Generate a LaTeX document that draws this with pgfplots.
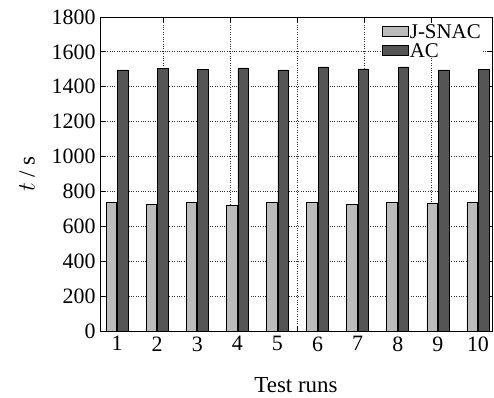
\documentclass[border=0pt]{standalone}
\usepackage{pgfplots}
\pgfplotsset{compat=1.18}
\usepackage{fontspec}
\setmainfont{Liberation Serif}
\definecolor{lightbar}{HTML}{BBBBBB}
\definecolor{darkbar}{HTML}{555555}
\pgfplotsset{boxlegend/.style={legend image code/.code={\draw[##1, draw=black, line width=0.6pt] (0bp,-5bp) rectangle (26bp,5bp);}}}
\begin{document}
\begin{tikzpicture}
\path[use as bounding box] (0,0) rectangle (494bp,398bp);
\begin{axis}[
  at={(100bp,67bp)}, anchor=south west,
  scale only axis, width=392bp, height=314bp,
  font=\fontsize{22}{24}\selectfont,
  ticklabel style={font=\fontsize{22}{24}\selectfont},
  /pgf/number format/assume math mode=true,
  /pgf/number format/1000 sep={},
  xmin=0.575, xmax=10.35, ymin=0, ymax=1800,
  ybar=1bp, bar width=10.5bp,
  every axis plot post/.append style={boxlegend},
  ytick={0,200,...,1800},
  xtick={2.15,3.82,5.49,7.16,8.83},
  xticklabels={},
  extra x ticks={1,2,3,4,5,6,7,8,9,10},
  extra x tick labels={1,2,3,4,5,6,7,8,9,10},
  extra x tick style={grid=none, major tick length=0pt},
  xmajorgrids, ymajorgrids,
  grid style={black!80, dotted, line width=0.8pt},
  tick align=inside, major tick length=5bp,
  tick style={black, line width=0.8pt},
  axis line style={line width=0.9pt},
  y tick label style={xshift=-1bp},
  x tick label style={yshift=-2bp},
  ylabel={$t$ / s},
  ylabel style={at={(axis description cs:-0.186,0.5)}, anchor=center, font=\fontsize{23}{24}\selectfont},
  xlabel={Test runs},
  xlabel style={at={(axis description cs:0.5,-0.172)}, anchor=center, font=\fontsize{23}{24}\selectfont},
  legend style={at={(rel axis cs:1,1)}, anchor=north east, xshift=-10bp, yshift=-6bp,
    draw=none, fill=white, inner sep=0bp, row sep=3bp,
    nodes={inner sep=1bp, text depth=0pt, text height=14bp},
    font=\fontsize{21}{21}\selectfont},
  legend cell align=left,
]
\addplot[fill=lightbar, draw=black, line width=0.6pt] coordinates {
(1,736) (2,726) (3,736) (4,722) (5,736) (6,736) (7,726) (8,736) (9,731) (10,736)};
\addplot[fill=darkbar, draw=black, line width=0.6pt] coordinates {
(1,1497) (2,1507) (3,1499) (4,1508) (5,1497) (6,1514) (7,1502) (8,1514) (9,1497) (10,1501)};
\legend{J-SNAC, AC}
\end{axis}
\end{tikzpicture}
\end{document}
